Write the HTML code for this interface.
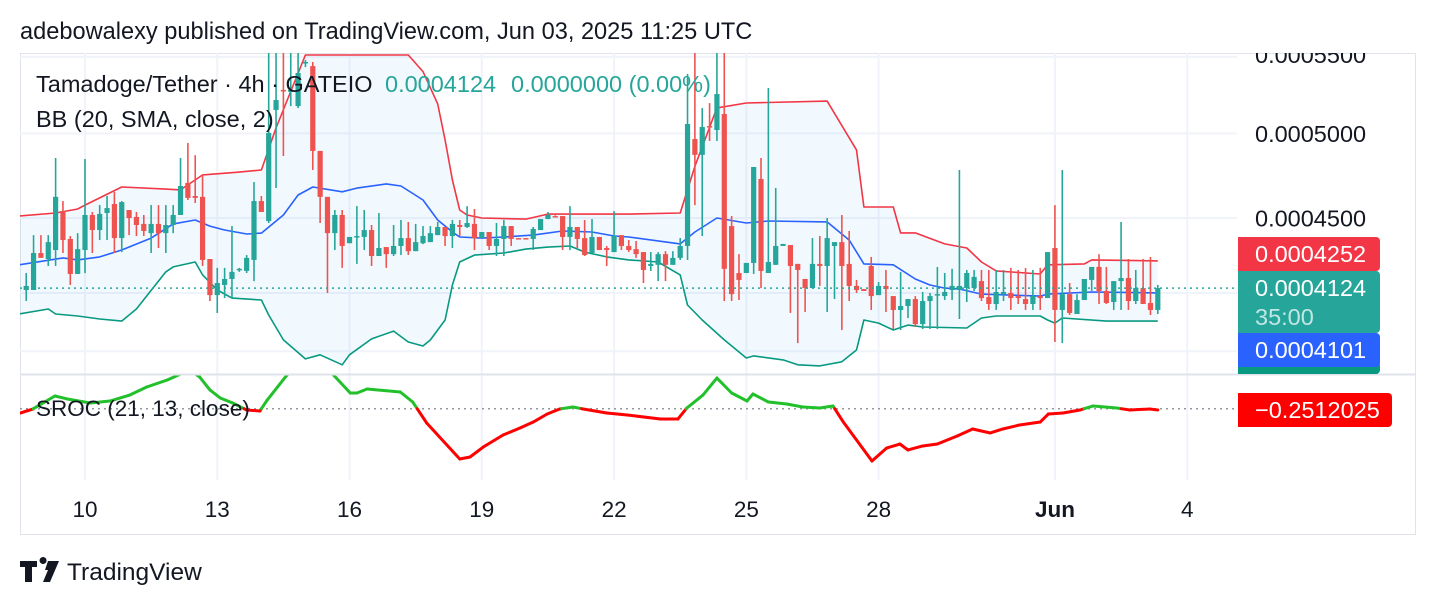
<!DOCTYPE html>
<html><head><meta charset="utf-8"><title>Tamadoge/Tether 4h</title>
<style>
html,body{margin:0;padding:0;background:#fff;width:1436px;height:606px;overflow:hidden}
svg{display:block;font-family:"Liberation Sans",Arial,sans-serif}
</style></head>
<body>
<svg id="chart" width="1436" height="606" viewBox="0 0 1436 606" xmlns="http://www.w3.org/2000/svg">
<defs>
<clipPath id="pc"><rect x="20" y="53" width="1217" height="321"/></clipPath>
<clipPath id="sc"><rect x="20" y="375" width="1217" height="105"/></clipPath>
<clipPath id="ac"><rect x="1237" y="53" width="179" height="321"/></clipPath>
</defs>
<rect x="0" y="0" width="1436" height="606" fill="#fff"/>
<text x="20" y="39" font-size="23.6" fill="#131722">adebowalexy published on TradingView.com, Jun 03, 2025 11:25 UTC</text>
<rect x="20.5" y="53.5" width="1395" height="481" fill="none" stroke="#e0e3eb" stroke-width="1"/>
<g id="grid"></g>
<g id="price" clip-path="url(#pc)"></g>
<g id="sroc" clip-path="url(#sc)"></g>
<line x1="20" y1="374.5" x2="1416" y2="374.5" stroke="#e0e3eb" stroke-width="2"/>
<g id="axis"></g>
<g id="xaxis"></g>
<text x="36" y="92" font-size="23.5" fill="#131722">Tamadoge/Tether · 4h · GATEIO</text>
<text x="385" y="92" font-size="23.5" fill="#26a69a">0.0004124</text>
<text x="511" y="92" font-size="23.5" fill="#26a69a">0.0000000 (0.00%)</text>
<text x="36" y="127" font-size="23.5" fill="#131722">BB (20, SMA, close, 2)</text>
<text x="36" y="416" font-size="22.5" fill="#131722">SROC (21, 13, close)</text>
<g>
<path d="M20 561h17v6h-5v15h-7v-15h-5z M43 564a3.5 3.5 0 1 1 0.1 0z M48 561h11l-9 21h-7l5-12h-3z" fill="#131722"/>
<text x="67" y="580" font-size="24.5" fill="#131722">TradingView</text>
</g>
</svg>
<script>
// prices in units of 1e-7 (e.g. 4124 = 0.0004124); first bar index = -8 (bars of 4h, index 0 = May 10 00:00)
const firstBar = -8;
const openP  = [4114,4114,4308,4276,4324,4539,4384,4197,4324,4517,4433,4528,4579,4389,4545,4506,4467,4416,4467,4416,4461,4517,4701,4625,4620,4276,4088,4140,4171,4218,4213,4271,4596,4483,5148,5278,5265,5173,5458,5437,4892,4620,4416,4517,4361,4395,4395,4433,4292,4340,4302,4346,4389,4318,4361,4367,4405,4450,4400,4461,4450,4467,4389,4422,4346,4384,4455,4389,4389,4384,4433,4494,4511,4511,4395,4450,4389,4308,4395,4335,4313,4405,4346,4329,4313,4239,4245,4302,4245,4282,4346,4965,4868,5046,5021,5122,4455,4202,4202,4255,4724,4202,4245,4346,4351,4250,4171,4124,4250,4239,4346,4367,4250,4135,4119,4239,4088,4135,4083,4013,4033,4068,3943,4058,4088,4083,4114,4114,4124,4124,4160,4078,4043,4093,4099,4083,4068,4043,4083,4073,4335,4013,4093,3993,4063,4166,4234,4109,4053,4160,4176,4058,4124,4048,4013];
const highP  = [4202,4405,4405,4405,4849,4596,4400,4416,4843,4534,4573,4625,4649,4596,4545,4534,4517,4573,4573,4573,4573,4849,4941,4866,4741,4276,4229,4229,4455,4229,4297,4706,4625,5600,5600,5600,5600,5600,5479,5465,4892,4620,4545,4545,4395,4567,4545,4461,4528,4340,4461,4489,4478,4467,4455,4455,4478,4450,4489,4489,4567,4551,4422,4422,4472,4489,4455,4389,4389,4450,4494,4534,4515,4511,4567,4450,4489,4494,4395,4346,4539,4405,4378,4373,4313,4313,4313,4318,4318,4389,5384,5600,5160,5192,5600,5600,4511,4302,4255,4795,4849,5291,4671,4357,4351,4250,4171,4389,4400,4500,4367,4517,4428,4166,4119,4287,4155,4218,4083,4208,4068,4083,4104,4099,4234,4202,4224,4777,4218,4218,4218,4218,4218,4218,4229,4218,4228,4218,4229,4218,4573,4777,4150,4093,4114,4187,4302,4234,4109,4478,4276,4218,4276,4287,4140];
const lowP   = [4058,4114,4282,4239,4239,4308,4140,4197,4202,4308,4378,4378,4308,4313,4405,4400,4400,4308,4335,4308,4416,4517,4602,4585,4239,4058,3998,4073,4073,4208,4202,4160,4534,4472,4671,4861,5173,5160,5430,4777,4472,4099,4324,4229,4361,4250,4324,4239,4292,4229,4292,4297,4297,4318,4356,4367,4405,4346,4335,4400,4445,4324,4389,4324,4292,4292,4346,4384,4384,4324,4433,4494,4505,4324,4324,4335,4292,4308,4324,4239,4313,4324,4313,4282,4150,4213,4160,4160,4245,4271,4271,4573,4400,4953,4953,4058,4058,4063,4202,4197,4124,4202,4245,4346,3998,3851,4003,4124,4135,4003,4068,3914,4058,4099,4109,4013,4088,4003,3919,3914,3973,3929,3919,3919,3919,4063,4063,3968,4053,4109,4058,4013,4013,4058,4013,4043,4013,4013,4013,4098,3856,3851,3988,4063,4063,4109,4043,4043,4013,4013,4013,4043,4043,3988,3993];
const closeP = [4135,4308,4282,4367,4620,4378,4197,4329,4517,4433,4523,4556,4389,4590,4500,4461,4428,4467,4416,4461,4517,4683,4614,4614,4271,4088,4150,4171,4208,4224,4282,4596,4534,5003,5212,5271,5278,5391,5465,4892,4620,4416,4517,4346,4395,4400,4433,4292,4335,4302,4346,4389,4318,4367,4400,4416,4450,4400,4467,4450,4472,4389,4422,4346,4384,4455,4384,4384,4384,4439,4494,4517,4510,4395,4450,4384,4297,4395,4324,4324,4400,4346,4324,4302,4218,4250,4302,4245,4282,4346,5059,4868,5040,5040,5251,4224,4093,4166,4255,4795,4213,4260,4346,4357,4239,4218,4124,4250,4239,4389,4367,4239,4135,4114,4109,4083,4135,4119,4013,4033,4068,3943,4058,4083,4093,4104,4135,4135,4202,4182,4073,4043,4104,4104,4073,4073,4043,4083,4073,4313,4013,4093,3998,4063,4171,4234,4109,4048,4160,4176,4058,4124,4043,4013,4124];

// Bollinger band samples (bar index, value)
const bbUpIdx = [-9,-4,-1,0,5,11,13,16,21,24,26,30,44,46,48,49,50,51,52,54,60,63,74,81,83,86,90,101,105,106,110,111,113,117,120,122,124,130,131,136,137,146];
const bbUpVal = [4511,4528,4551,4573,4677,4665,4660,4748,4765,4777,5034,5513,5513,5400,5187,4959,4718,4545,4517,4500,4494,4522,4522,4528,4800,5161,5193,5205,4898,4562,4562,4417,4417,4357,4335,4260,4213,4197,4245,4250,4271,4266];
const bbMidIdx = [-9,-3,-1,2,5,9,12,15,17,19,22,24,27,29,31,35,37,41,43,46,48,50,51,54,57,61,65,69,72,74,81,83,86,90,93,101,104,106,110,113,115,117,119,122,130,131,137,146];
const bbMidVal = [4245,4282,4271,4287,4324,4389,4467,4489,4455,4433,4411,4416,4517,4631,4677,4649,4671,4695,4683,4602,4489,4422,4395,4389,4395,4405,4428,4422,4400,4395,4357,4422,4500,4472,4483,4478,4378,4250,4245,4171,4140,4124,4119,4093,4083,4093,4104,4099];
const bbLoIdx = [-9,-5,-4,-1,2,5,7,11,12,15,16,18,20,24,25,27,30,32,35,36,39,42,44,46,47,49,50,51,53,57,60,63,66,68,71,74,78,81,82,84,87,90,91,95,97,100,103,105,106,108,110,112,114,120,122,124,130,131,132,133,139,146];
const bbLoVal = [3993,4018,3993,3983,3968,3958,4018,4208,4234,4260,4192,4114,4073,4063,3988,3866,3776,3795,3748,3795,3871,3909,3856,3837,3866,3963,4140,4260,4297,4308,4329,4340,4346,4313,4287,4271,4260,4192,4038,3963,3866,3780,3790,3771,3748,3743,3762,3818,3963,3948,3914,3938,3929,3924,3973,3983,3983,3963,3948,3973,3958,3958];

// SROC samples (bar index, value)
const srocIdx = [-8.8,-7.1,-4.1,-2.4,0.7,3.4,6.1,8.4,11.2,12.9,14.3,15.6,17.0,18.4,20.1,22.0,23.8,24.8,27.5,29.3,32.0,33.8,36.1,37.0,38.4,42.9,44.6,46.5,51.0,52.4,54.2,56.9,59.2,61.0,62.9,64.6,66.4,67.8,71.0,73.8,78.3,80.7,81.9,84.1,86.0,88.0,90.1,90.9,93.0,95.5,97.7,100.0,101.8,103.2,107.1,109.1,110.9,112.0,114.0,116.0,118.7,120.8,123.2,124.9,127.2,130.0,131.1,133.1,135.4,137.2,140.4,142.2,144.9,146];
const srocVal = [-0.83,-0.06,2.44,1.87,1.10,1.48,2.63,4.17,5.52,6.6,7.4,6.1,3.6,2.06,1.10,-0.25,-0.44,1.67,6.5,8.4,8.4,6.5,3.02,3.02,3.79,3.21,1.29,-2.75,-9.67,-9.29,-7.37,-5.06,-3.71,-2.56,-1.02,-0.06,0.33,-0.06,-0.83,-1.21,-1.98,-1.98,0.13,2.63,5.9,3.02,1.48,2.83,1.29,0.9,0.33,0.13,0.52,-2.56,-10.06,-7.56,-6.79,-7.94,-7.17,-6.79,-5.25,-3.9,-4.67,-3.9,-3.13,-2.56,-1.02,-0.83,-0.25,0.52,0.13,-0.25,-0.06,-0.25];

const priceTicks = [5500,5000,4500];
const priceTickLabels = ["0.0005500","0.0005000","0.0004500"];
const gridOnlyTicks = [4099,3812];
const dayTicks = [0,3,6,9,12,15,18,22,25];
const dayLabels = ["10","13","16","19","22","25","28","Jun","4"];
const lastPrice = 4124;

const NS = "http://www.w3.org/2000/svg";
function xBar(n){ return 85 + n*7.348; }
function xDay(d){ return 85 + d*44.09; }
function yP(p){ return 218 - 803*Math.log(p/4500); }
function ySroc(v){ return 408.7 - v*5.2; }
function mk(tag, attrs, parent){
  const e = document.createElementNS(NS, tag);
  for (const k in attrs) e.setAttribute(k, attrs[k]);
  parent.appendChild(e);
  return e;
}
const grid = document.getElementById('grid');
const price = document.getElementById('price');
const sroc = document.getElementById('sroc');
const axis = document.getElementById('axis');
const xaxis = document.getElementById('xaxis');

// grid
priceTicks.concat(gridOnlyTicks).forEach(function(p){
  const l = mk('line', {x1:20, x2:1237, y1:yP(p), y2:yP(p), stroke:'#f0f3fa', 'stroke-width':2}, grid);
  
  
});
dayTicks.forEach(function(d, i){
  const x = xDay(d);
  const l = mk('line', {x1:x, x2:x, y1:53, y2:480, stroke:'#f0f3fa', 'stroke-width':2}, grid);
  
  
  const t = mk('text', {x:x, y:517, 'font-size':22.5, 'text-anchor':'middle', fill:'#131722', 'font-weight': dayLabels[i]==='Jun' ? 'bold' : 'normal'}, xaxis);
  t.textContent = dayLabels[i];
  
  
});

// Bollinger fill + lines
function pts(idx, val){ return idx.map(function(n, i){ return [xBar(n), yP(val[i])]; }); }
const up = pts(bbUpIdx, bbUpVal), mid = pts(bbMidIdx, bbMidVal), lo = pts(bbLoIdx, bbLoVal);
const fillPts = up.concat(lo.slice().reverse()).map(function(p){ return p[0].toFixed(1)+','+p[1].toFixed(1); }).join(' ');
const bf = mk('polygon', {points:fillPts, fill:'rgba(33,150,243,0.06)'}, price);


[[up,'#f23645','bb-upper'],[mid,'#2962ff','bb-basis'],[lo,'#089981','bb-lower']].forEach(function(s){
  const pl = mk('polyline', {points:s[0].map(function(p){return p[0].toFixed(1)+','+p[1].toFixed(1);}).join(' '), fill:'none', stroke:s[1], 'stroke-width':1.6, 'stroke-linejoin':'round'}, price);
  
  
});

// candles
for (let i = 0; i < openP.length; i++){
  const n = firstBar + i, x = xBar(n);
  const o = openP[i], c = closeP[i], h = highP[i], l = lowP[i];
  const col = c >= o ? '#26a69a' : '#ef5350';
  const g = mk('g', {}, price);
  
  
  mk('line', {x1:x, x2:x, y1:yP(h), y2:yP(l), stroke:col, 'stroke-width':1.6}, g);
  const yt = yP(Math.max(o,c)), yb = yP(Math.min(o,c));
  mk('rect', {x:x-2.6, y:yt, width:5.2, height:Math.max(1.5, yb-yt), fill:col}, g);
}
// last price line
const lp = mk('line', {x1:20, x2:1237, y1:yP(lastPrice), y2:yP(lastPrice), stroke:'#26a69a', 'stroke-width':1.5, 'stroke-dasharray':'2 4'}, price);



// SROC
const zl = mk('line', {x1:20, x2:1237, y1:ySroc(0), y2:ySroc(0), stroke:'#9598a1', 'stroke-width':1.5, 'stroke-dasharray':'2 4'}, sroc);


for (let i = 0; i < srocIdx.length-1; i++){
  const x1 = xBar(srocIdx[i]), x2 = xBar(srocIdx[i+1]), v1 = srocVal[i], v2 = srocVal[i+1];
  let segs = [];
  if ((v1 >= 0) === (v2 >= 0)) segs.push([x1,v1,x2,v2]);
  else { const t = v1/(v1-v2), xm = x1+(x2-x1)*t; segs.push([x1,v1,xm,0]); segs.push([xm,0,x2,v2]); }
  segs.forEach(function(s){
    const pos = (s[1]+s[3]) >= 0;
    const ln = mk('line', {x1:s[0], y1:ySroc(s[1]), x2:s[2], y2:ySroc(s[3]), stroke: pos ? '#22c02a' : '#ff0000', 'stroke-width':3, 'stroke-linecap':'round'}, sroc);
    
    
  });
}

// price axis labels
const ag = mk('g', {'clip-path':'url(#ac)'}, axis);
priceTicks.forEach(function(p, i){
  const t = mk('text', {x:1255, y:yP(p)+(i===0 ? 6 : 8.5), 'font-size':23.5, fill:'#131722'}, ag);
  t.textContent = priceTickLabels[i];
  
  
});
function badge(name, y, h, w, color, lines){
  const g = mk('g', {}, ag.parentNode);
  
  
  mk('path', {d:'M1238 '+y+'h'+(w-4)+'a4 4 0 0 1 4 4v'+(h-8)+'a4 4 0 0 1 -4 4h-'+(w-4)+'z', fill:color}, g);
  lines.forEach(function(L){
    const t = mk('text', {x:1255, y:L[1], 'font-size':23.5, fill:L[2]}, g);
    t.textContent = L[0];
  });
}
badge('bb-lower-badge', 362, 12, 142, '#089981', []);
badge('bb-upper-badge', 237, 34, 142, '#f23645', [['0.0004252', 262, '#fff']]);
badge('last-price-badge', 271, 62, 142, '#26a69a', [['0.0004124', 296, '#fff'], ['35:00', 325, 'rgba(255,255,255,0.72)']]);
badge('bb-basis-badge', 333, 34, 142, '#2962ff', [['0.0004101', 358, '#fff']]);
badge('sroc-value-badge', 393, 34, 154, '#ff0000', [['\u22120.2512025', 418, '#fff']]);
</script>
</body></html>
